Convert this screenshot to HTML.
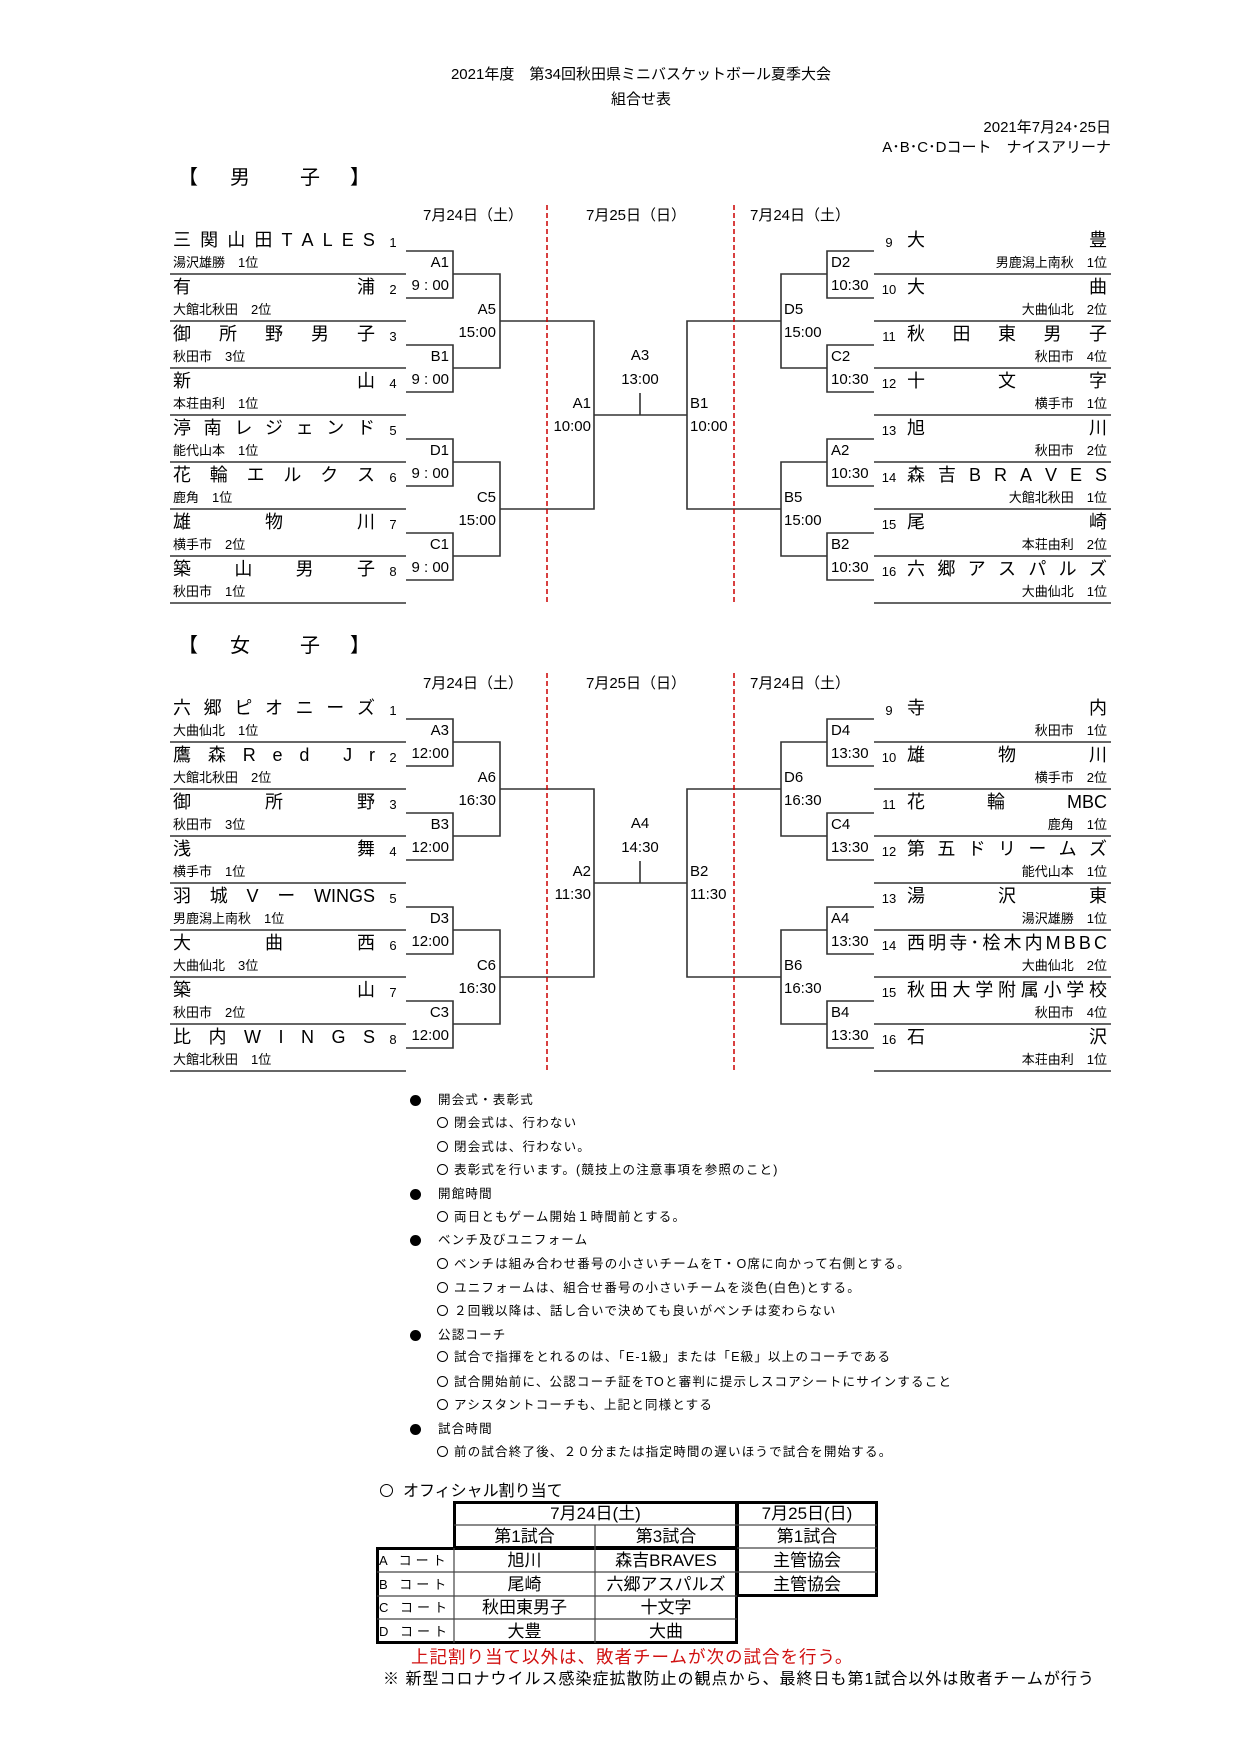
<!DOCTYPE html>
<html><head><meta charset="utf-8"><style>
body{margin:0;background:#fff;}
#p{position:relative;width:1241px;height:1755px;overflow:hidden;font-family:"Liberation Sans","Noto Sans CJK JP",sans-serif;color:#000;}
.t{position:absolute;white-space:nowrap;line-height:1.2;}
.nm{position:absolute;height:22px;display:flex;justify-content:space-between;font-size:18px;line-height:22px;white-space:nowrap;}
.ln{left:173px;width:202px;}
.rn{left:907px;width:200px;}
.sb{position:absolute;font-size:13px;line-height:16px;white-space:nowrap;}
.ls{left:173px;}
.rs{left:874px;width:233px;text-align:right;}
.nu{position:absolute;font-size:13px;line-height:16px;width:24px;text-align:center;}
.lnu{left:381px;}.rnu{left:877px;}
.bl{position:absolute;font-size:15px;line-height:18px;white-space:nowrap;}
.l1{right:792px;}.r1{left:831px;}
.l2{right:745px;}.r2{left:784px;}
.l3{right:650px;}.r3{left:690px;}
.fc{left:590px;width:100px;text-align:center;}
.dt{position:absolute;font-size:15px;line-height:18px;width:140px;text-align:center;}
.nt{position:absolute;font-size:12.5px;line-height:16px;white-space:nowrap;letter-spacing:1.2px;}
.bd{position:absolute;width:11px;height:11px;border-radius:50%;background:#000;}
.oc{display:inline-block;width:9px;height:9px;border:1.3px solid #000;border-radius:50%;vertical-align:-1px;margin-right:6px;}
.c{position:absolute;font-size:17px;line-height:23px;text-align:center;box-sizing:border-box;white-space:nowrap;}
.ct{position:absolute;left:379px;width:75px;font-size:13px;line-height:23px;letter-spacing:4px;white-space:nowrap;overflow:hidden;}
</style></head><body><div id="p">
<svg width="1241" height="1755" style="position:absolute;left:0;top:0">
<g fill="none" stroke="#333" stroke-width="1.6">
<path d="M170 274H406M170 321H406M170 368H406M170 415H406M170 462H406M170 509H406M170 556H406M170 603H406"/>
<path d="M874 274H1111M874 321H1111M874 368H1111M874 415H1111M874 462H1111M874 509H1111M874 556H1111M874 603H1111"/>
<path d="M406 251H453V298H406M406 345H453V392H406M406 439H453V486H406M406 533H453V580H406"/>
<path d="M874 251H827V298H874M874 345H827V392H874M874 439H827V486H874M874 533H827V580H874"/>
<path d="M453 274H500V368H453M453 462H500V556H453M827 274H781V368H827M827 462H781V556H827"/>
<path d="M500 321H594V509H500M781 321H687V509H781M594 415H687M640 393V415"/>
<path d="M547 205V603M734 205V603" stroke="#c00" stroke-width="1.5" stroke-dasharray="5,3"/>
</g>
<g transform="translate(0,468)" fill="none" stroke="#333" stroke-width="1.6">
<path d="M170 274H406M170 321H406M170 368H406M170 415H406M170 462H406M170 509H406M170 556H406M170 603H406"/>
<path d="M874 274H1111M874 321H1111M874 368H1111M874 415H1111M874 462H1111M874 509H1111M874 556H1111M874 603H1111"/>
<path d="M406 251H453V298H406M406 345H453V392H406M406 439H453V486H406M406 533H453V580H406"/>
<path d="M874 251H827V298H874M874 345H827V392H874M874 439H827V486H874M874 533H827V580H874"/>
<path d="M453 274H500V368H453M453 462H500V556H453M827 274H781V368H827M827 462H781V556H827"/>
<path d="M500 321H594V509H500M781 321H687V509H781M594 415H687M640 393V415"/>
<path d="M547 205V603M734 205V603" stroke="#c00" stroke-width="1.5" stroke-dasharray="5,3"/>
</g>
</svg>

<!-- header -->
<div class="t" style="left:341px;width:600px;text-align:center;top:66px;font-size:15px">2021年度　第34回秋田県ミニバスケットボール夏季大会</div>
<div class="t" style="left:341px;width:600px;text-align:center;top:91px;font-size:15px">組合せ表</div>
<div class="t" style="right:130px;top:119px;font-size:15px">2021年7月24･25日</div>
<div class="t" style="right:130px;top:139px;font-size:15px">A･B･C･Dコート　ナイスアリーナ</div>
<div class="t" style="left:178px;top:166px;font-size:20px">【</div>
<div class="t" style="left:230px;top:166px;font-size:20px">男</div>
<div class="t" style="left:300px;top:166px;font-size:20px">子</div>
<div class="t" style="left:350px;top:166px;font-size:20px">】</div>
<div class="t" style="left:178px;top:634px;font-size:20px">【</div>
<div class="t" style="left:230px;top:634px;font-size:20px">女</div>
<div class="t" style="left:300px;top:634px;font-size:20px">子</div>
<div class="t" style="left:350px;top:634px;font-size:20px">】</div>

<!-- dates -->
<div class="dt" style="left:403px;top:207px">7月24日（土）</div>
<div class="dt" style="left:566px;top:207px">7月25日（日）</div>
<div class="dt" style="left:730px;top:207px">7月24日（土）</div>
<div class="dt" style="left:403px;top:675px">7月24日（土）</div>
<div class="dt" style="left:566px;top:675px">7月25日（日）</div>
<div class="dt" style="left:730px;top:675px">7月24日（土）</div>

<!-- MEN left teams -->
<div class="nm ln" style="top:229px"><span>三</span><span>関</span><span>山</span><span>田</span><span>T</span><span>A</span><span>L</span><span>E</span><span>S</span></div>
<div class="sb ls" style="top:255px">湯沢雄勝　1位</div>
<div class="nm ln" style="top:276px"><span>有</span><span>浦</span></div>
<div class="sb ls" style="top:302px">大館北秋田　2位</div>
<div class="nm ln" style="top:323px"><span>御</span><span>所</span><span>野</span><span>男</span><span>子</span></div>
<div class="sb ls" style="top:349px">秋田市　3位</div>
<div class="nm ln" style="top:370px"><span>新</span><span>山</span></div>
<div class="sb ls" style="top:396px">本荘由利　1位</div>
<div class="nm ln" style="top:417px"><span>渟</span><span>南</span><span>レ</span><span>ジ</span><span>ェ</span><span>ン</span><span>ド</span></div>
<div class="sb ls" style="top:443px">能代山本　1位</div>
<div class="nm ln" style="top:464px"><span>花</span><span>輪</span><span>エ</span><span>ル</span><span>ク</span><span>ス</span></div>
<div class="sb ls" style="top:490px">鹿角　1位</div>
<div class="nm ln" style="top:511px"><span>雄</span><span>物</span><span>川</span></div>
<div class="sb ls" style="top:537px">横手市　2位</div>
<div class="nm ln" style="top:558px"><span>築</span><span>山</span><span>男</span><span>子</span></div>
<div class="sb ls" style="top:584px">秋田市　1位</div>
<!-- MEN right teams -->
<div class="nm rn" style="top:229px"><span>大</span><span>豊</span></div>
<div class="sb rs" style="top:255px">男鹿潟上南秋　1位</div>
<div class="nm rn" style="top:276px"><span>大</span><span>曲</span></div>
<div class="sb rs" style="top:302px">大曲仙北　2位</div>
<div class="nm rn" style="top:323px"><span>秋</span><span>田</span><span>東</span><span>男</span><span>子</span></div>
<div class="sb rs" style="top:349px">秋田市　4位</div>
<div class="nm rn" style="top:370px"><span>十</span><span>文</span><span>字</span></div>
<div class="sb rs" style="top:396px">横手市　1位</div>
<div class="nm rn" style="top:417px"><span>旭</span><span>川</span></div>
<div class="sb rs" style="top:443px">秋田市　2位</div>
<div class="nm rn" style="top:464px"><span>森</span><span>吉</span><span>B</span><span>R</span><span>A</span><span>V</span><span>E</span><span>S</span></div>
<div class="sb rs" style="top:490px">大館北秋田　1位</div>
<div class="nm rn" style="top:511px"><span>尾</span><span>崎</span></div>
<div class="sb rs" style="top:537px">本荘由利　2位</div>
<div class="nm rn" style="top:558px"><span>六</span><span>郷</span><span>ア</span><span>ス</span><span>パ</span><span>ル</span><span>ズ</span></div>
<div class="sb rs" style="top:584px">大曲仙北　1位</div>
<!-- MEN numbers -->
<div class="nu lnu" style="top:235px">1</div><div class="nu lnu" style="top:282px">2</div><div class="nu lnu" style="top:329px">3</div><div class="nu lnu" style="top:376px">4</div>
<div class="nu lnu" style="top:423px">5</div><div class="nu lnu" style="top:470px">6</div><div class="nu lnu" style="top:517px">7</div><div class="nu lnu" style="top:564px">8</div>
<div class="nu rnu" style="top:235px">9</div><div class="nu rnu" style="top:282px">10</div><div class="nu rnu" style="top:329px">11</div><div class="nu rnu" style="top:376px">12</div>
<div class="nu rnu" style="top:423px">13</div><div class="nu rnu" style="top:470px">14</div><div class="nu rnu" style="top:517px">15</div><div class="nu rnu" style="top:564px">16</div>
<!-- MEN labels -->
<div class="bl l1" style="top:254px">A1</div><div class="bl l1" style="top:277px">9 : 00</div>
<div class="bl l1" style="top:348px">B1</div><div class="bl l1" style="top:371px">9 : 00</div>
<div class="bl l1" style="top:442px">D1</div><div class="bl l1" style="top:465px">9 : 00</div>
<div class="bl l1" style="top:536px">C1</div><div class="bl l1" style="top:559px">9 : 00</div>
<div class="bl r1" style="top:254px">D2</div><div class="bl r1" style="top:277px">10:30</div>
<div class="bl r1" style="top:348px">C2</div><div class="bl r1" style="top:371px">10:30</div>
<div class="bl r1" style="top:442px">A2</div><div class="bl r1" style="top:465px">10:30</div>
<div class="bl r1" style="top:536px">B2</div><div class="bl r1" style="top:559px">10:30</div>
<div class="bl l2" style="top:301px">A5</div><div class="bl l2" style="top:324px">15:00</div>
<div class="bl l2" style="top:489px">C5</div><div class="bl l2" style="top:512px">15:00</div>
<div class="bl r2" style="top:301px">D5</div><div class="bl r2" style="top:324px">15:00</div>
<div class="bl r2" style="top:489px">B5</div><div class="bl r2" style="top:512px">15:00</div>
<div class="bl l3" style="top:395px">A1</div><div class="bl l3" style="top:418px">10:00</div>
<div class="bl r3" style="top:395px">B1</div><div class="bl r3" style="top:418px">10:00</div>
<div class="bl fc" style="top:347px">A3</div><div class="bl fc" style="top:371px">13:00</div>

<!-- WOMEN left teams -->
<div class="nm ln" style="top:697px"><span>六</span><span>郷</span><span>ピ</span><span>オ</span><span>ニ</span><span>ー</span><span>ズ</span></div>
<div class="sb ls" style="top:723px">大曲仙北　1位</div>
<div class="nm ln" style="top:744px"><span>鷹</span><span>森</span><span>R</span><span>e</span><span>d</span><span> </span><span>J</span><span>r</span></div>
<div class="sb ls" style="top:770px">大館北秋田　2位</div>
<div class="nm ln" style="top:791px"><span>御</span><span>所</span><span>野</span></div>
<div class="sb ls" style="top:817px">秋田市　3位</div>
<div class="nm ln" style="top:838px"><span>浅</span><span>舞</span></div>
<div class="sb ls" style="top:864px">横手市　1位</div>
<div class="nm ln" style="top:885px"><span>羽</span><span>城</span><span>V</span><span>ー</span><span>WINGS</span></div>
<div class="sb ls" style="top:911px">男鹿潟上南秋　1位</div>
<div class="nm ln" style="top:932px"><span>大</span><span>曲</span><span>西</span></div>
<div class="sb ls" style="top:958px">大曲仙北　3位</div>
<div class="nm ln" style="top:979px"><span>築</span><span>山</span></div>
<div class="sb ls" style="top:1005px">秋田市　2位</div>
<div class="nm ln" style="top:1026px"><span>比</span><span>内</span><span>W</span><span>I</span><span>N</span><span>G</span><span>S</span></div>
<div class="sb ls" style="top:1052px">大館北秋田　1位</div>
<!-- WOMEN right teams -->
<div class="nm rn" style="top:697px"><span>寺</span><span>内</span></div>
<div class="sb rs" style="top:723px">秋田市　1位</div>
<div class="nm rn" style="top:744px"><span>雄</span><span>物</span><span>川</span></div>
<div class="sb rs" style="top:770px">横手市　2位</div>
<div class="nm rn" style="top:791px"><span>花</span><span>輪</span><span>MBC</span></div>
<div class="sb rs" style="top:817px">鹿角　1位</div>
<div class="nm rn" style="top:838px"><span>第</span><span>五</span><span>ド</span><span>リ</span><span>ー</span><span>ム</span><span>ズ</span></div>
<div class="sb rs" style="top:864px">能代山本　1位</div>
<div class="nm rn" style="top:885px"><span>湯</span><span>沢</span><span>東</span></div>
<div class="sb rs" style="top:911px">湯沢雄勝　1位</div>
<div class="nm rn" style="top:932px"><span>西</span><span>明</span><span>寺</span><span>･</span><span>桧</span><span>木</span><span>内</span><span>M</span><span>B</span><span>B</span><span>C</span></div>
<div class="sb rs" style="top:958px">大曲仙北　2位</div>
<div class="nm rn" style="top:979px"><span>秋</span><span>田</span><span>大</span><span>学</span><span>附</span><span>属</span><span>小</span><span>学</span><span>校</span></div>
<div class="sb rs" style="top:1005px">秋田市　4位</div>
<div class="nm rn" style="top:1026px"><span>石</span><span>沢</span></div>
<div class="sb rs" style="top:1052px">本荘由利　1位</div>
<!-- WOMEN numbers -->
<div class="nu lnu" style="top:703px">1</div><div class="nu lnu" style="top:750px">2</div><div class="nu lnu" style="top:797px">3</div><div class="nu lnu" style="top:844px">4</div>
<div class="nu lnu" style="top:891px">5</div><div class="nu lnu" style="top:938px">6</div><div class="nu lnu" style="top:985px">7</div><div class="nu lnu" style="top:1032px">8</div>
<div class="nu rnu" style="top:703px">9</div><div class="nu rnu" style="top:750px">10</div><div class="nu rnu" style="top:797px">11</div><div class="nu rnu" style="top:844px">12</div>
<div class="nu rnu" style="top:891px">13</div><div class="nu rnu" style="top:938px">14</div><div class="nu rnu" style="top:985px">15</div><div class="nu rnu" style="top:1032px">16</div>
<!-- WOMEN labels -->
<div class="bl l1" style="top:722px">A3</div><div class="bl l1" style="top:745px">12:00</div>
<div class="bl l1" style="top:816px">B3</div><div class="bl l1" style="top:839px">12:00</div>
<div class="bl l1" style="top:910px">D3</div><div class="bl l1" style="top:933px">12:00</div>
<div class="bl l1" style="top:1004px">C3</div><div class="bl l1" style="top:1027px">12:00</div>
<div class="bl r1" style="top:722px">D4</div><div class="bl r1" style="top:745px">13:30</div>
<div class="bl r1" style="top:816px">C4</div><div class="bl r1" style="top:839px">13:30</div>
<div class="bl r1" style="top:910px">A4</div><div class="bl r1" style="top:933px">13:30</div>
<div class="bl r1" style="top:1004px">B4</div><div class="bl r1" style="top:1027px">13:30</div>
<div class="bl l2" style="top:769px">A6</div><div class="bl l2" style="top:792px">16:30</div>
<div class="bl l2" style="top:957px">C6</div><div class="bl l2" style="top:980px">16:30</div>
<div class="bl r2" style="top:769px">D6</div><div class="bl r2" style="top:792px">16:30</div>
<div class="bl r2" style="top:957px">B6</div><div class="bl r2" style="top:980px">16:30</div>
<div class="bl l3" style="top:863px">A2</div><div class="bl l3" style="top:886px">11:30</div>
<div class="bl r3" style="top:863px">B2</div><div class="bl r3" style="top:886px">11:30</div>
<div class="bl fc" style="top:815px">A4</div><div class="bl fc" style="top:839px">14:30</div>

<!-- notes -->
<div class="bd" style="left:410px;top:1095px"></div><div class="nt" style="left:438px;top:1092px">開会式・表彰式</div>
<div class="nt" style="left:437px;top:1115px"><span class="oc"></span>閉会式は、行わない</div>
<div class="nt" style="left:437px;top:1139px"><span class="oc"></span>閉会式は、行わない。</div>
<div class="nt" style="left:437px;top:1162px"><span class="oc"></span>表彰式を行います。(競技上の注意事項を参照のこと)</div>
<div class="bd" style="left:410px;top:1189px"></div><div class="nt" style="left:438px;top:1186px">開館時間</div>
<div class="nt" style="left:437px;top:1209px"><span class="oc"></span>両日ともゲーム開始１時間前とする。</div>
<div class="bd" style="left:410px;top:1235px"></div><div class="nt" style="left:438px;top:1232px">ベンチ及びユニフォーム</div>
<div class="nt" style="left:437px;top:1256px"><span class="oc"></span>ベンチは組み合わせ番号の小さいチームをT・O席に向かって右側とする。</div>
<div class="nt" style="left:437px;top:1280px"><span class="oc"></span>ユニフォームは、組合せ番号の小さいチームを淡色(白色)とする。</div>
<div class="nt" style="left:437px;top:1303px"><span class="oc"></span>２回戦以降は、話し合いで決めても良いがベンチは変わらない</div>
<div class="bd" style="left:410px;top:1330px"></div><div class="nt" style="left:438px;top:1327px">公認コーチ</div>
<div class="nt" style="left:437px;top:1349px"><span class="oc"></span>試合で指揮をとれるのは、「E-1級」または「E級」以上のコーチである</div>
<div class="nt" style="left:437px;top:1374px"><span class="oc"></span>試合開始前に、公認コーチ証をTOと審判に提示しスコアシートにサインすること</div>
<div class="nt" style="left:437px;top:1397px"><span class="oc"></span>アシスタントコーチも、上記と同様とする</div>
<div class="bd" style="left:410px;top:1424px"></div><div class="nt" style="left:438px;top:1421px">試合時間</div>
<div class="nt" style="left:437px;top:1444px"><span class="oc"></span>前の試合終了後、２０分または指定時間の遅いほうで試合を開始する。</div>

<!-- officials -->
<div class="t" style="left:380px;top:1482px;font-size:16px"><span class="oc" style="width:11px;height:11px;margin-right:10px"></span>オフィシャル割り当て</div>
<div style="position:absolute;left:453px;top:1501px;width:285px;height:48px;border:3px solid #000;box-sizing:border-box"></div>
<div style="position:absolute;left:736px;top:1501px;width:142px;height:96px;border:3px solid #000;box-sizing:border-box"></div>
<div style="position:absolute;left:376px;top:1547px;width:362px;height:97px;border:3px solid #000;box-sizing:border-box"></div>
<svg width="1241" height="1755" style="position:absolute;left:0;top:0" fill="none" stroke="#444" stroke-width="1.2">
<path d="M454 1525H737M595 1525V1643M454 1548V1643M377 1572H877M377 1596H737M377 1619H737M737 1525H877M737 1548H877"/>
</svg>
<div class="c" style="left:454px;top:1502px;width:283px">7月24日(土)</div>
<div class="c" style="left:737px;top:1502px;width:140px">7月25日(日)</div>
<div class="c" style="left:454px;top:1525px;width:141px">第1試合</div>
<div class="c" style="left:595px;top:1525px;width:142px">第3試合</div>
<div class="c" style="left:737px;top:1525px;width:140px">第1試合</div>
<div class="ct" style="top:1549px">A コート</div>
<div class="ct" style="top:1573px">B コート</div>
<div class="ct" style="top:1596px">C コート</div>
<div class="ct" style="top:1620px">D コート</div>
<div class="c" style="left:454px;top:1549px;width:141px">旭川</div>
<div class="c" style="left:595px;top:1549px;width:142px">森吉BRAVES</div>
<div class="c" style="left:737px;top:1549px;width:140px">主管協会</div>
<div class="c" style="left:454px;top:1573px;width:141px">尾崎</div>
<div class="c" style="left:595px;top:1573px;width:142px">六郷アスパルズ</div>
<div class="c" style="left:737px;top:1573px;width:140px">主管協会</div>
<div class="c" style="left:454px;top:1596px;width:141px">秋田東男子</div>
<div class="c" style="left:595px;top:1596px;width:142px">十文字</div>
<div class="c" style="left:454px;top:1620px;width:141px">大豊</div>
<div class="c" style="left:595px;top:1620px;width:142px">大曲</div>
<div class="t" style="left:411px;top:1647px;font-size:17.5px;color:#d01010;letter-spacing:1px">上記割り当て以外は、敗者チームが次の試合を行う。</div>
<div class="t" style="left:383px;top:1670px;font-size:16px;letter-spacing:1px">※ 新型コロナウイルス感染症拡散防止の観点から、最終日も第1試合以外は敗者チームが行う</div>
</div></body></html>
